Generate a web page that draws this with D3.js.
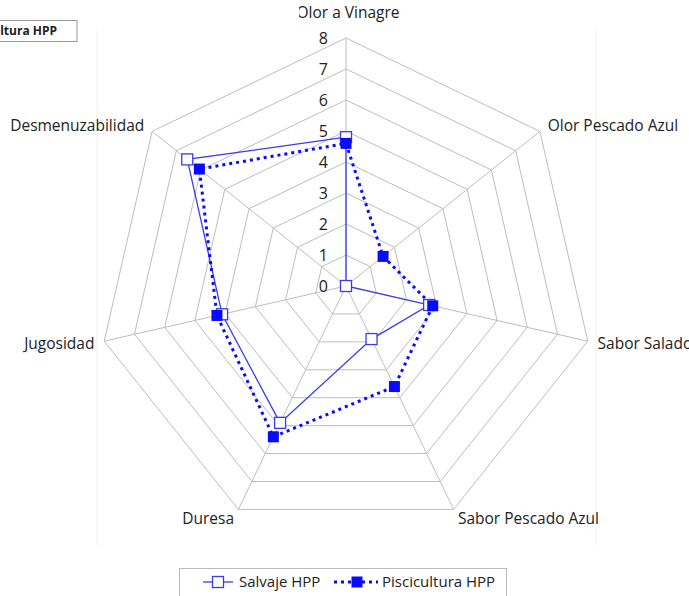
<!DOCTYPE html>
<html>
<head>
<meta charset="utf-8">
<script src="https://cdn.jsdelivr.net/npm/d3@7"></script>
<style>
  body { margin: 0; background: #fff; }
  text { font-family: "Open Sans", sans-serif; fill: #222; }
</style>
</head>
<body>
<div id="chart"></div>
<script>
// radar chart data
const categories = ["Olor a Vinagre", "Olor Pescado Azul", "Sabor Salado", "Sabor Pescado Azul", "Duresa", "Jugosidad", "Desmenuzabilidad"];
const salvaje = [4.8, 0, 2.75, 1.9, 4.9, 4.1, 6.55];
const piscicultura = [4.6, 1.53, 2.87, 3.6, 5.4, 4.27, 6.05];
const ticks = [0, 1, 2, 3, 4, 5, 6, 7, 8];
const seriesNames = ["Salvaje HPP", "Piscicultura HPP"];

const width = 689, height = 596;
const cx = 346, cy = 286;
const blue = "#0a0aff";

const svg = d3.select("#chart")
  .append("svg")
  .attr("width", width)
  .attr("height", height);

const r = d3.scaleLinear().domain([0, 8]).range([0, 248]);
const angle = i => i * 2 * Math.PI / categories.length;
const pt = (i, v) => [cx + r(v) * Math.sin(angle(i)), cy - r(v) * Math.cos(angle(i))];

// faint plot area edges
svg.selectAll(".edge")
  .data([97, 596])
  .enter().append("line")
  .attr("x1", d => d).attr("x2", d => d)
  .attr("y1", 30).attr("y2", 545)
  .style("stroke", "#f0f0f0");

// heptagon grid
const grid = svg.append("g");
ticks.slice(1).forEach(t => {
  grid.append("polygon")
    .attr("points", categories.map((c, i) => pt(i, t).join(",")).join(" "))
    .style("fill", "none")
    .style("stroke", "#bdbdbd")
    .style("stroke-width", 1);
});
categories.forEach((c, i) => {
  const p = pt(i, 8);
  grid.append("line")
    .attr("x1", cx).attr("y1", cy)
    .attr("x2", p[0]).attr("y2", p[1])
    .style("stroke", "#bdbdbd");
});

// tick labels
svg.selectAll(".tick")
  .data(ticks)
  .enter().append("text")
  .attr("x", cx - 18)
  .attr("y", d => cy - r(d))
  .attr("dy", "0.35em")
  .attr("text-anchor", "end")
  .style("font-size", "16px")
  .text(d => d);

// category labels
svg.selectAll(".cat")
  .data(categories)
  .enter().append("text")
  .attr("x", (d, i) => i === 0 ? cx + 2 : cx + 258 * Math.sin(angle(i)))
  .attr("y", (d, i) => i === 0 ? 13 : cy - 258 * Math.cos(angle(i)))
  .attr("dy", "0.35em")
  .attr("text-anchor", (d, i) => {
    const s = Math.sin(angle(i));
    return s > 0.01 ? "start" : (s < -0.01 ? "end" : "middle");
  })
  .style("font-size", "15.5px")
  .text(d => d);
// the first letter of the top label is partly hidden in the original
svg.append("rect").attr("x", 280).attr("y", 0).attr("width", 19).attr("height", 22).style("fill", "#fff");

// series lines
const line = d3.line().x(d => d[0]).y(d => d[1]);
const salvajePts = salvaje.map((v, i) => pt(i, v));
const pisciPts = piscicultura.map((v, i) => pt(i, v));

svg.append("path")
  .attr("d", line(salvajePts.concat([salvajePts[0]])))
  .style("fill", "none")
  .style("stroke", "#3b3bf0")
  .style("stroke-width", 1.3);

svg.append("path")
  .attr("d", line(pisciPts.concat([pisciPts[0]])))
  .style("fill", "none")
  .style("stroke", blue)
  .style("stroke-width", 3)
  .style("stroke-dasharray", "3,4");

const sz = 11;
svg.selectAll(".sq1")
  .data(salvajePts)
  .enter().append("rect")
  .attr("x", d => d[0] - sz / 2).attr("y", d => d[1] - sz / 2)
  .attr("width", sz).attr("height", sz)
  .style("fill", "#fff")
  .style("stroke", "#3b3bf0")
  .style("stroke-width", 1.3);

svg.selectAll(".sq2")
  .data(pisciPts)
  .enter().append("rect")
  .attr("x", d => d[0] - sz / 2).attr("y", d => d[1] - sz / 2)
  .attr("width", sz).attr("height", sz)
  .style("fill", blue);

// clipped title box at top left
svg.append("rect")
  .attr("x", -60).attr("y", 20.5).attr("width", 137).attr("height", 21)
  .style("fill", "#fff").style("stroke", "#999");
svg.append("text")
  .attr("x", 57).attr("y", 31).attr("dy", "0.35em")
  .attr("text-anchor", "end")
  .style("font-size", "12px").style("font-weight", "bold")
  .text(seriesNames[1]);

// legend
const lg = svg.append("g");
lg.append("rect")
  .attr("x", 179.5).attr("y", 568.5).attr("width", 327).attr("height", 40)
  .style("fill", "#fff").style("stroke", "#bbb");
lg.append("line")
  .attr("x1", 203).attr("x2", 233).attr("y1", 582).attr("y2", 582)
  .style("stroke", "#3b3bf0").style("stroke-width", 1.3);
lg.append("rect")
  .attr("x", 212.5).attr("y", 576.5).attr("width", sz).attr("height", sz)
  .style("fill", "#fff").style("stroke", "#3b3bf0").style("stroke-width", 1.3);
lg.append("text")
  .attr("x", 239).attr("y", 582).attr("dy", "0.35em")
  .style("font-size", "15px").text(seriesNames[0]);
lg.append("line")
  .attr("x1", 334).attr("x2", 378).attr("y1", 582).attr("y2", 582)
  .style("stroke", blue).style("stroke-width", 3).style("stroke-dasharray", "3,4");
lg.append("rect")
  .attr("x", 351.5).attr("y", 576.5).attr("width", sz).attr("height", sz)
  .style("fill", blue);
lg.append("text")
  .attr("x", 382).attr("y", 582).attr("dy", "0.35em")
  .style("font-size", "15px").text(seriesNames[1]);
</script>
</body>
</html>
